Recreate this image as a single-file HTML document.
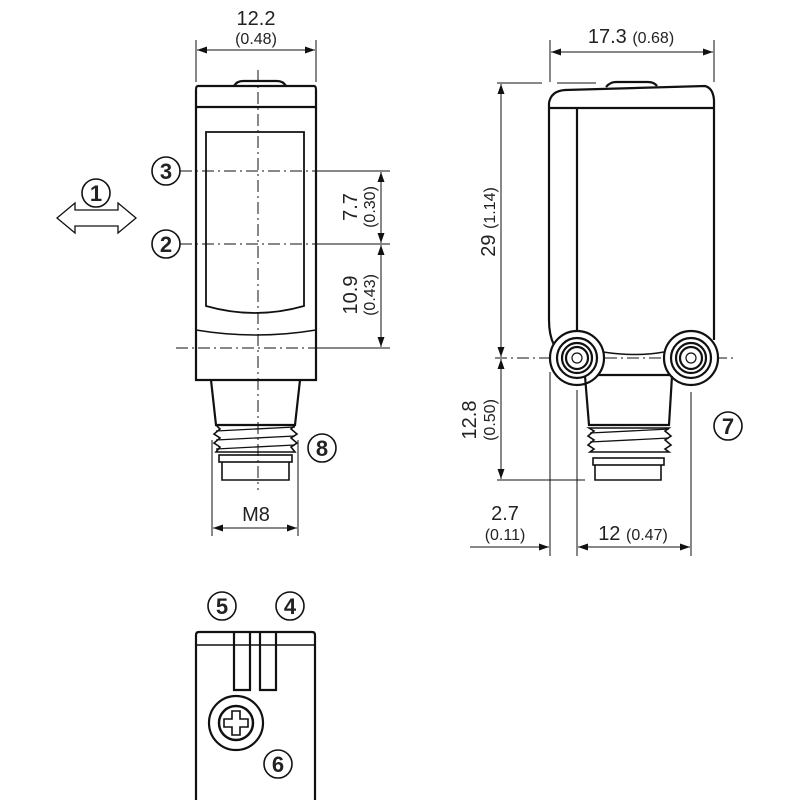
<!DOCTYPE html>
<html><head><meta charset="utf-8"><style>
html,body{margin:0;padding:0;background:#fff}
svg{display:block}
text{font-family:"Liberation Sans",sans-serif;fill:#222}
</style></head><body>
<svg width="800" height="800" viewBox="0 0 800 800" xmlns="http://www.w3.org/2000/svg">
<defs>
<marker id="a" viewBox="0 0 10 10" refX="10" refY="5" markerWidth="10" markerHeight="10" markerUnits="userSpaceOnUse" orient="auto-start-reverse"><path d="M0,1.5 L10,5 L0,8.5z" fill="#111"/></marker>
</defs>
<g fill="none" stroke="#111" stroke-width="1">
<line x1="196" y1="40" x2="196" y2="82"/><line x1="316" y1="40" x2="316" y2="82"/>
<line x1="197" y1="50" x2="315" y2="50" marker-start="url(#a)" marker-end="url(#a)"/>
<line x1="258" y1="70" x2="258" y2="490" stroke-dasharray="12,4,2,4"/>
<line x1="180" y1="171" x2="350" y2="171" stroke-dasharray="12,4,2,4"/><line x1="320" y1="171" x2="390" y2="171"/>
<line x1="180" y1="244" x2="350" y2="244" stroke-dasharray="12,4,2,4"/><line x1="320" y1="244" x2="390" y2="244"/>
<line x1="176" y1="348" x2="350" y2="348" stroke-dasharray="12,4,2,4"/><line x1="320" y1="348" x2="390" y2="348"/>
<line x1="381" y1="172" x2="381" y2="243" marker-start="url(#a)" marker-end="url(#a)"/>
<line x1="381" y1="245" x2="381" y2="347" marker-start="url(#a)" marker-end="url(#a)"/>
<line x1="212" y1="440" x2="212" y2="536"/><line x1="298" y1="440" x2="298" y2="536"/>
<line x1="213" y1="528" x2="297" y2="528" marker-start="url(#a)" marker-end="url(#a)"/>
</g>
<g fill="none" stroke="#111" stroke-width="2.2">
<path d="M198,86 H314 Q316,86 316,90 V380 H196 V90 Q196,86 198,86z"/>
<path d="M234,86 Q237,81 243,81 H277 Q283,81 286,86"/>
<line x1="196" y1="107" x2="316" y2="107"/>
<path d="M206,132 H304 V306 Q255,320 206,306z" stroke-width="1.8"/>
<path d="M196,330 Q256,340 316,330" stroke-width="1.5"/>
<path d="M211,380 L216,425 H295 L300,380"/>
<path d="M216,425 L220,429 L214,434 L220,438 L214,443 L220,447 L216,452 H295 L291,447 L297,443 L291,438 L297,434 L291,429 L295,425" stroke-width="1.6"/>
<path d="M216,431 L295,427 M216,440 L295,436 M216,449 L295,445" stroke-width="1.3"/>
<rect x="219" y="455" width="73" height="7" stroke-width="1.6"/>
<path d="M222,462 V480 H289 V462" stroke-width="1.6"/>
</g>
<g fill="none" stroke="#111" stroke-width="1.6">
<circle cx="166" cy="171" r="14"/><circle cx="166" cy="244" r="14"/><circle cx="96" cy="193" r="14"/>
<circle cx="322" cy="448" r="14"/>
<path d="M57,218 L75,203 V210 H118 V203 L136,218 L118,233 V226 H75 V233z" stroke-width="1.3"/>
</g>
<g font-size="22" text-anchor="middle" font-weight="bold">
<text x="166" y="179">3</text><text x="166" y="252">2</text><text x="96" y="201">1</text><text x="322" y="456">8</text>
</g>
<g font-size="20" text-anchor="middle">
<text x="256" y="25">12.2</text><text x="256" y="44" font-size="16">(0.48)</text>
<text x="256" y="521">M8</text>
<text transform="translate(357,207) rotate(-90)">7.7</text>
<text transform="translate(375,207) rotate(-90)" font-size="16">(0.30)</text>
<text transform="translate(357,295) rotate(-90)">10.9</text>
<text transform="translate(375,295) rotate(-90)" font-size="16">(0.43)</text>
<text x="631" y="43">17.3 <tspan font-size="16">(0.68)</tspan></text>
<text transform="translate(495,222) rotate(-90)">29 <tspan font-size="16">(1.14)</tspan></text>
<text transform="translate(476,420) rotate(-90)">12.8</text>
<text transform="translate(495,420) rotate(-90)" font-size="16">(0.50)</text>
<text x="505" y="520">2.7</text><text x="505" y="540" font-size="16">(0.11)</text>
<text x="633" y="540">12 <tspan font-size="16">(0.47)</tspan></text>
</g>
<g fill="none" stroke="#111" stroke-width="1">
<line x1="550" y1="40" x2="550" y2="82"/><line x1="714" y1="40" x2="714" y2="82"/>
<line x1="551" y1="52" x2="713" y2="52" marker-start="url(#a)" marker-end="url(#a)"/>
<line x1="497" y1="83" x2="542" y2="83"/><line x1="557" y1="83" x2="596" y2="83"/>
<line x1="501" y1="84" x2="501" y2="357" marker-start="url(#a)" marker-end="url(#a)"/>
<line x1="501" y1="359" x2="501" y2="479" marker-start="url(#a)" marker-end="url(#a)"/>
<line x1="497" y1="480" x2="585" y2="480"/>
<line x1="495" y1="358" x2="735" y2="358" stroke-dasharray="12,4,2,4"/>
<line x1="550" y1="372" x2="550" y2="556"/><line x1="577" y1="390" x2="577" y2="556"/><line x1="691" y1="392" x2="691" y2="556"/>
<line x1="470" y1="547" x2="549" y2="547" marker-end="url(#a)"/>
<line x1="578" y1="547" x2="690" y2="547" marker-start="url(#a)" marker-end="url(#a)"/>
<line x1="577" y1="330" x2="577" y2="386"/><line x1="691" y1="330" x2="691" y2="386"/>
</g>
<g fill="none" stroke="#111" stroke-width="2.2">
<path d="M554,345 Q549,335 549,320 V103 Q551,91 565,90 L705,86 Q713,88 714,100 V340"/>
<path d="M606,87 Q610,82 616,82 H648 Q654,82 657,86"/>
<line x1="550" y1="108" x2="714" y2="108"/>
<line x1="577" y1="108" x2="577" y2="332"/>
<path d="M603,352 Q636,357 664,352" stroke-width="1.5"/>
<line x1="598" y1="375" x2="670" y2="375"/>
<circle cx="577" cy="358" r="27" fill="#fff"/><circle cx="577" cy="358" r="20"/><circle cx="577" cy="358" r="15"/><circle cx="577" cy="358" r="11"/><circle cx="577" cy="358" r="5" stroke-width="1.2"/>
<circle cx="691" cy="358" r="27" fill="#fff"/><circle cx="691" cy="358" r="20"/><circle cx="691" cy="358" r="15"/><circle cx="691" cy="358" r="11"/><circle cx="691" cy="358" r="5" stroke-width="1.2"/>
<path d="M585,376 L589,425 H669 L672,376"/>
<path d="M589,428 L594,431 L588,436 L594,440 L588,445 L594,449 L590,452 H669 L665,449 L671,445 L665,440 L671,436 L665,431 L669,428z" stroke-width="1.6"/>
<path d="M590,433 L669,429 M590,442 L669,438" stroke-width="1.3"/>
<rect x="593" y="458" width="71" height="7" stroke-width="1.6"/>
<path d="M595,465 V480 H661 V465" stroke-width="1.6"/>
</g>
<circle cx="728" cy="426" r="14" fill="none" stroke="#111" stroke-width="1.6"/>
<text x="728" y="434" font-size="22" font-weight="bold" text-anchor="middle">7</text>
<g fill="none" stroke="#111" stroke-width="2.2">
<path d="M196,800 V635 Q196,632 199,632 H312 Q315,632 315,635 V800"/>
<line x1="196" y1="645" x2="315" y2="645" stroke-width="1.6"/>
<path d="M234,632 V690 H250 V632 M260,632 V690 H276 V632"/>
<circle cx="236" cy="723" r="27"/>
<circle cx="236" cy="723" r="17" stroke-width="2.5"/>
<path d="M232,711 h8 v8 h8 v8 h-8 v8 h-8 v-8 h-8 v-8 h8z" stroke-width="1.6"/>
</g>
<g fill="none" stroke="#111" stroke-width="1.6">
<circle cx="222" cy="606" r="14"/><circle cx="290" cy="606" r="14"/><circle cx="278" cy="764" r="14"/>
</g>
<g font-size="22" font-weight="bold" text-anchor="middle">
<text x="222" y="614">5</text><text x="290" y="614">4</text><text x="278" y="772">6</text>
</g>
</svg>
</body></html>
